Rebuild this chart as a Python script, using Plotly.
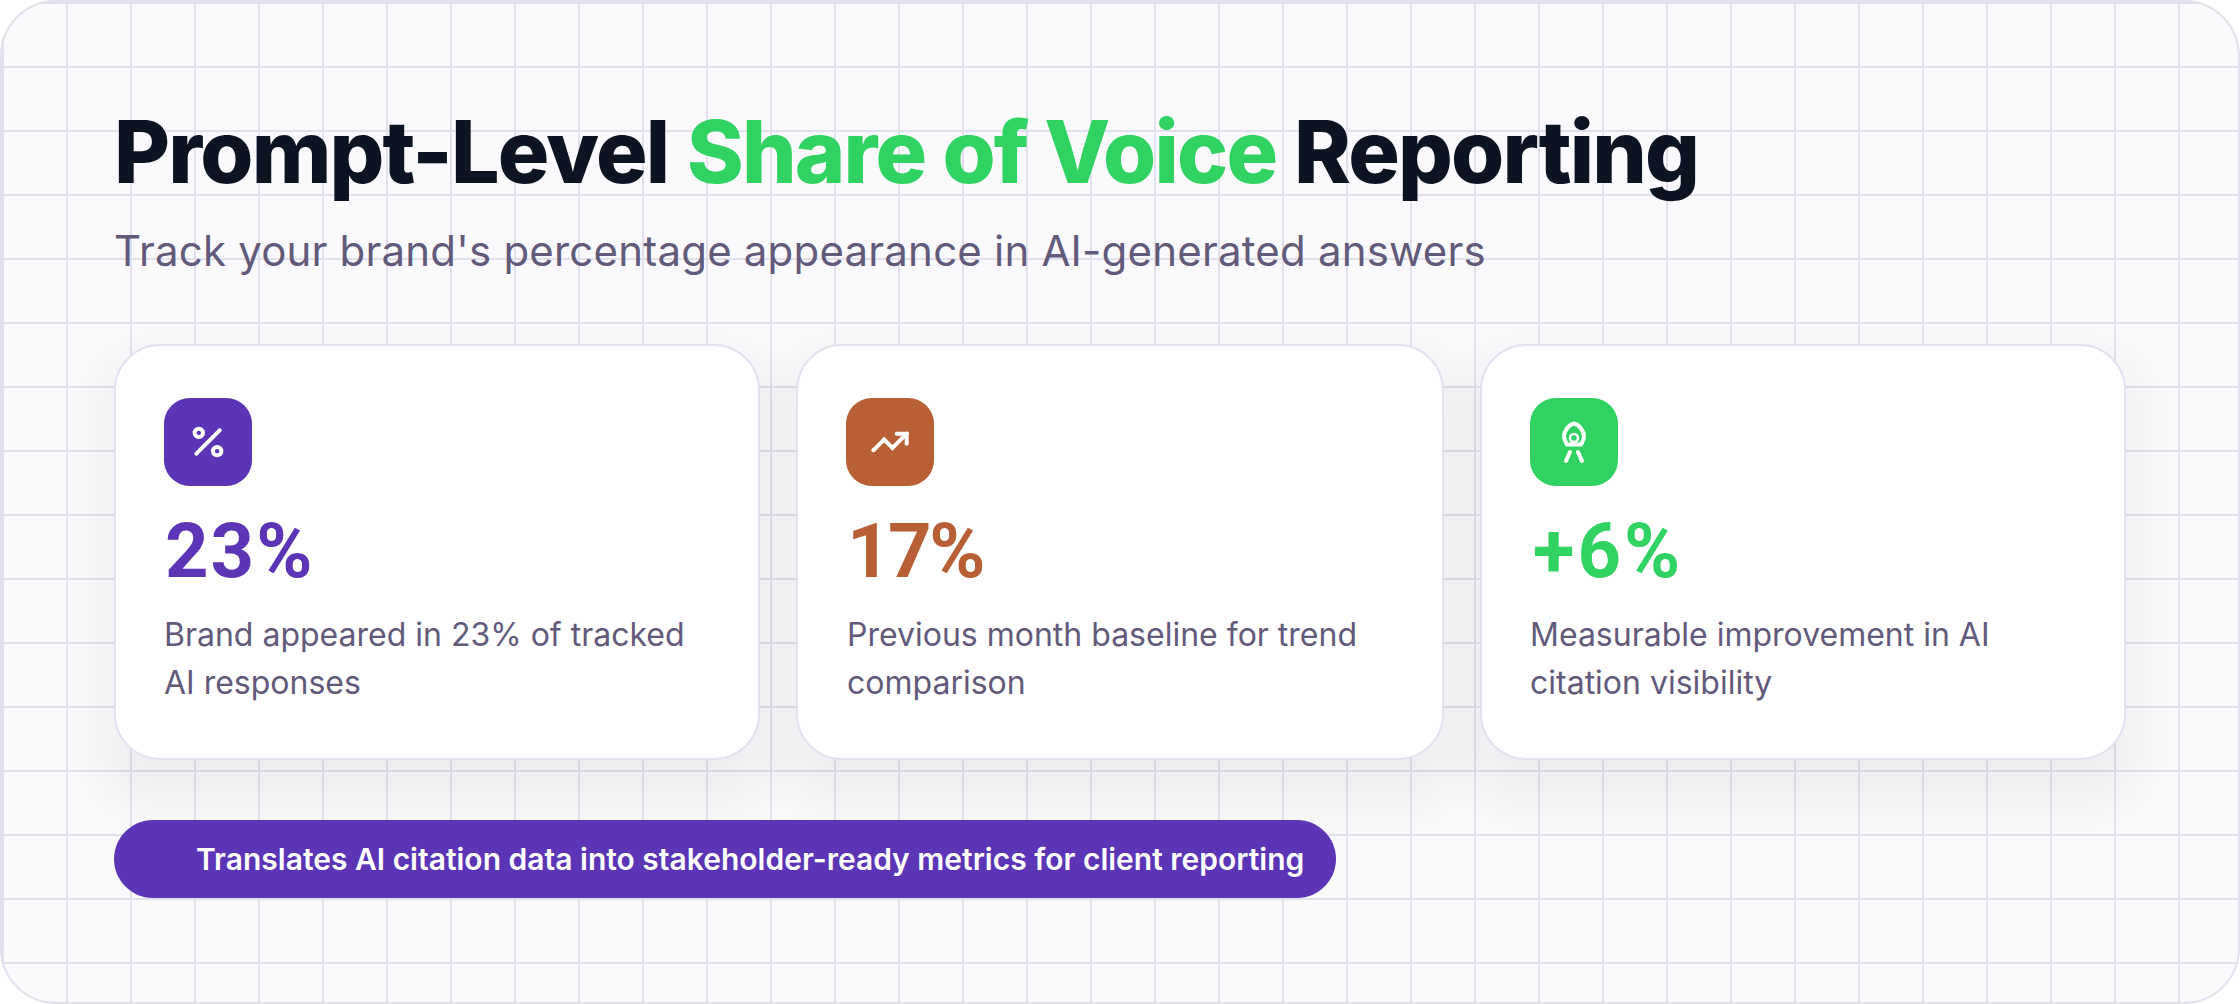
import plotly.graph_objects as go

W, H = 2240, 1004

# ---- content ----
title_parts = ["Prompt-Level", "Share of Voice", "Reporting"]
subtitle = "Track your brand's percentage appearance in AI-generated answers"
stat_values = ["23%", "17%", "+6%"]
stat_line1 = ["Brand appeared in 23% of tracked", "Previous month baseline for trend", "Measurable improvement in AI"]
stat_line2 = ["AI responses", "comparison", "citation visibility"]
footer = "Translates AI citation data into stakeholder-ready metrics for client reporting"

# ---- palette ----
BG = "#fafafc"
GRID = "#e3e0ee"
INK = "#0d1421"
GREEN = "#30d361"
PURPLE = "#5b35b5"
ORANGE = "#b85f35"
MUTED = "#625a7a"
stat_colors = [PURPLE, ORANGE, GREEN]

K = 0.5523


def rr(x0, y0, x1, y1, r):
    c = r * (1 - K)
    return (f"M{x0+r},{y0} L{x1-r},{y0} C{x1-c},{y0} {x1},{y0+c} {x1},{y0+r} "
            f"L{x1},{y1-r} C{x1},{y1-c} {x1-c},{y1} {x1-r},{y1} "
            f"L{x0+r},{y1} C{x0+c},{y1} {x0},{y1-c} {x0},{y1-r} "
            f"L{x0},{y0+r} C{x0},{y0+c} {x0+c},{y0} {x0+r},{y0} Z")


def circle(cx, cy, r):
    return rr(cx - r, cy - r, cx + r, cy + r, r)


shapes = []


def add(path, fill="rgba(0,0,0,0)", line=None, lw=0, opacity=1):
    shapes.append(dict(type="path", path=path, xref="x", yref="y", layer="above", fillcolor=fill,
                       opacity=opacity, line=dict(color=line or "rgba(0,0,0,0)", width=lw)))


def stroke(pts, width=4, color="white"):
    add("M" + " L".join(f"{x},{y}" for x, y in pts), line=color, lw=width)
    for x, y in pts:
        add(circle(x, y, width / 2), fill=color)


# corner masks and panel border
R = 56
c = R * (1 - K)
add(f"M0,0 L{R},0 C{c},0 0,{c} 0,{R} Z", fill="white")
add(f"M{W},0 L{W-R},0 C{W-c},0 {W},{c} {W},{R} Z", fill="white")
add(f"M0,{H} L{R},{H} C{c},{H} 0,{H-c} 0,{H-R} Z", fill="white")
add(f"M{W},{H} L{W-R},{H} C{W-c},{H} {W},{H-c} {W},{H-R} Z", fill="white")
add(rr(1, 1, W - 1, H - 1, R - 1), line=GRID, lw=2)

# cards
card_x0 = [115, 797, 1481]
card_x1 = [759, 1443, 2125]
card_y0, card_y1 = 345, 759
icon_x0 = [164, 846, 1530]
text_x = [165, 847, 1533]
desc_x = [164, 847, 1530]
stat_spacing = [2, -2.5, 3]

# soft shadows
LAYERS = 16
for x0, x1 in zip(card_x0, card_x1):
    for i in range(LAYERS):
        g = 46 - i * 92 / (LAYERS - 1)
        add(rr(x0 - g, card_y0 + 28 - g, x1 + g, card_y1 + 28 + g, max(44 + g, 8)),
            fill="#2a1f5e", opacity=0.0042)

for i, (x0, x1) in enumerate(zip(card_x0, card_x1)):
    add(rr(x0, card_y0, x1, card_y1, 45), fill="white", line="#e5e2f0", lw=2)
    add(rr(icon_x0[i], 398, icon_x0[i] + 88, 486, 26), fill=stat_colors[i])

# icons (24-unit glyph grid at 5/3 px per unit)
def pt(ox, u, v, oy=422, s=5 / 3):
    return (round(ox + u * s, 2), round(oy + v * s, 2))


ox = icon_x0[0] + 24
stroke([pt(ox, 19, 5), pt(ox, 5, 19)])
add(circle(*pt(ox, 6.5, 6.5), 4.2), line="white", lw=4)
add(circle(*pt(ox, 17.5, 17.5), 4.2), line="white", lw=4)

ox = icon_x0[1] + 24
stroke([pt(ox, 22, 7), pt(ox, 13.5, 15.5), pt(ox, 8.5, 10.5), pt(ox, 2, 17)])
stroke([pt(ox, 16, 7), pt(ox, 22, 7), pt(ox, 22, 13)])

cx = icon_x0[2] + 44
add(f"M{cx},423.5 C{cx+5},424.5 {cx+10},431 {cx+10},436.5 C{cx+10},439 {cx+9},441 {cx+7},444.5 "
    f"L{cx-7},444.5 C{cx-9},441 {cx-10},439 {cx-10},436.5 C{cx-10},431 {cx-5},424.5 {cx},423.5 Z",
    line="white", lw=4)
add(circle(cx, 438, 4), line="white", lw=2.5)
stroke([(cx - 4, 452), (cx - 8, 461)])
stroke([(cx + 4, 452), (cx + 8, 461)])

# footer pill
add(rr(114, 820, 1336, 898, 39), fill=PURPLE)


annotations = []


def text(x, baseline, s, size, color, weight=400, spacing=None, family="Inter", descent=0.2412):
    body = s if spacing is None else f'<span style="letter-spacing:{spacing}px">{s}</span>'
    annotations.append(dict(x=x, y=baseline + descent * size, xref="x", yref="y", text=body, showarrow=False,
                            xanchor="left", yanchor="bottom", align="left", borderpad=0, borderwidth=0,
                            font=dict(family=family, size=size, color=color, weight=weight)))


text(114, 183, title_parts[0], 86, INK, 800, -1.8)
text(687, 183, title_parts[1], 86, GREEN, 800, -1.8)
text(1294, 183, title_parts[2], 86, INK, 800, -1.8)
text(114, 266, subtitle, 42, MUTED, 400, 0.2)
for i in range(3):
    text(text_x[i], 578, stat_values[i], 76, stat_colors[i], 700, stat_spacing[i], family="Roboto", descent=0.2344)
    text(desc_x[i], 646, stat_line1[i], 32, MUTED)
    text(desc_x[i], 694, stat_line2[i], 32, MUTED)
text(196, 870, footer, 30, "white", 600)

axis = dict(showgrid=True, gridcolor=GRID, gridwidth=2, tick0=3, dtick=64, zeroline=False,
            showticklabels=False, ticks="", showline=False, fixedrange=True)

fig = go.Figure()
fig.update_layout(
    width=W, height=H, margin=dict(l=0, r=0, t=0, b=0, pad=0),
    paper_bgcolor="white", plot_bgcolor=BG, showlegend=False,
    xaxis=dict(range=[0, W], **axis),
    yaxis=dict(range=[H, 0], **axis),
    shapes=shapes, annotations=annotations,
)
fig.write_html("out.html", config={"displayModeBar": False},
               post_script="document.body.style.margin='0';document.body.style.overflow='hidden';")
